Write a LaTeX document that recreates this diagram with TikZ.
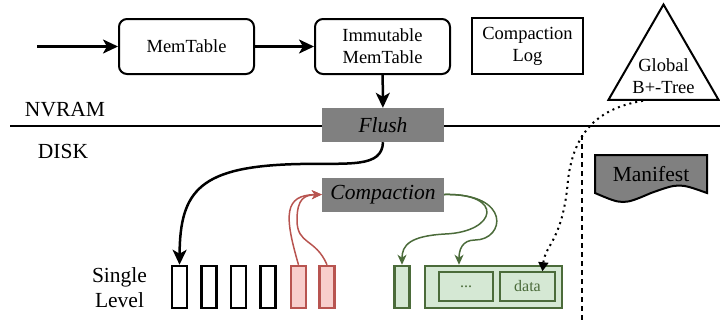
\documentclass[tikz,border=0pt]{standalone}
\usepackage{fontspec}
\setmainfont{Liberation Serif}
\usetikzlibrary{arrows.meta, positioning, shapes.geometric}

\definecolor{oldfill}{HTML}{F8CECC}
\definecolor{oldline}{HTML}{B85450}
\definecolor{newfill}{HTML}{D5E8D4}
\definecolor{newline}{HTML}{4B6B3A}
\definecolor{opgray}{HTML}{808080}

\begin{document}
\begin{tikzpicture}[
    x=1pt, y=-1pt,
    font=\fontsize{18.5}{22}\selectfont,
    big/.style={font=\fontsize{21.5}{25}\selectfont},
    table/.style={draw, line width=2pt, rounded corners=8pt, minimum width=135pt, minimum height=55pt, align=center},
    logbox/.style={draw, line width=2pt, minimum width=111pt, minimum height=56pt, align=center},
    op/.style={fill=opgray, minimum width=122pt, minimum height=34pt, font=\fontsize{21.5}{25}\selectfont\itshape},
    run/.style={draw, line width=2.5pt, minimum width=15pt, minimum height=42pt, inner sep=0pt},
    oldrun/.style={run, draw=oldline, fill=oldfill},
    newrun/.style={run, draw=newline, fill=newfill},
    part/.style={draw=newline, line width=1.5pt, fill=newfill, minimum width=54pt, minimum height=29pt, text=newline, font=\fontsize{16}{18}\selectfont},
    flow/.style={-{Stealth[length=15pt, width=14pt, inset=4pt]}, line width=2.5pt},
    oldflow/.style={-{Stealth[length=10pt, width=9pt, inset=3pt]}, line width=1.5pt, draw=oldline},
    newflow/.style={-{Stealth[length=10pt, width=9pt, inset=3pt]}, line width=1.5pt, draw=newline}
]
\useasboundingbox (0,0) rectangle (720,322);

% NVRAM / disk boundary
\draw[line width=1.2pt] (10,126) -- (720,126);
\node[big] (nvram) at (65,109.5) {NVRAM};
\node[big] (disk) at (63,151) {DISK};

% In-memory part
\coordinate (in) at (37,46.5);
\node[table] (mt) at (186.5,46.5) {MemTable};
\node[table] (imt) at (382.5,46.5) {Immutable\\MemTable};
\node[logbox] (clog) at (527.5,46) {Compaction\\Log};
\node[regular polygon, regular polygon sides=3, draw, line width=2pt, minimum size=127pt, inner sep=0pt] (bt) at (663.5,68) {};
\node[align=center] (btl) at (663.5,76.5) {Global\\B+-Tree};

% Operations
\node[op] (fl) at (383,125) {Flush};
\node[op] (cp) at (383,194.5) {Compaction};

% Manifest
\draw[line width=2pt, fill=opgray] (595,155) -- (707,155) -- (707,193)
    .. controls (679,183) .. (651,193)
    .. controls (623,205) .. (595,193) -- cycle;
\node[big] (manifest) at (651,174.5) {Manifest};

% Separator
\draw[line width=1.5pt, dash pattern=on 5pt off 4pt] (582,135) -- (582,322);

% Single level runs
\node[big, align=center] (single) at (119.5,288) {Single\\Level};
\node[run] (b1) at (179.5,287) {};
\node[run] (b2) [right=12pt of b1] {};
\node[run] (b3) [right=12pt of b2] {};
\node[run] (b4) [right=12pt of b3] {};
\node[oldrun] (r1) [right=13pt of b4] {};
\node[oldrun] (r2) [right=11pt of r1] {};
\node[newrun] (g1) at (402,287) {};
\node[draw=newline, line width=2.5pt, fill=newfill, minimum width=137pt, minimum height=42pt] (gbig) at (493.5,287) {};
\node[part] (dots) at (466,286.5) {...};
\node[part, minimum width=55pt] (data) at (527.5,286.5) {data};

% Edges
\draw[flow] (in) -- (mt);
\draw[flow] (mt) -- (imt);
\draw[flow] (imt) -- (fl);
\draw[flow] (fl.south) .. controls (382,168) and (350,163) .. (300,164)
    .. controls (200,166) and (180,190) .. (b1.north);
\draw[oldflow] (r1.north) .. controls (284,215) and (284,195) .. (cp.west);
\draw[oldflow] (r2.north) .. controls (315.5,238) and (297,245) .. (297,220)
    .. controls (297,198) and (305,195) .. (cp.west);
\draw[newflow] (cp.east) .. controls (505,193) and (497,232) .. (445,234)
    .. controls (410,236) and (402,245) .. (g1.north);
\draw[newflow] (cp.east) .. controls (512,193) and (505,240) .. (475,240)
    .. controls (462,240) and (459,250) .. ([xshift=-7pt]dots.north |- gbig.north);
\draw[line width=2pt, dash pattern=on 2pt off 4pt, -{Triangle[length=9pt, width=10pt]}]
    (bt.238) .. controls (600,108) and (574,130) .. (568,180)
    .. controls (563,240) and (545,245) .. ([xshift=15pt]data.north);

\end{tikzpicture}
\end{document}
